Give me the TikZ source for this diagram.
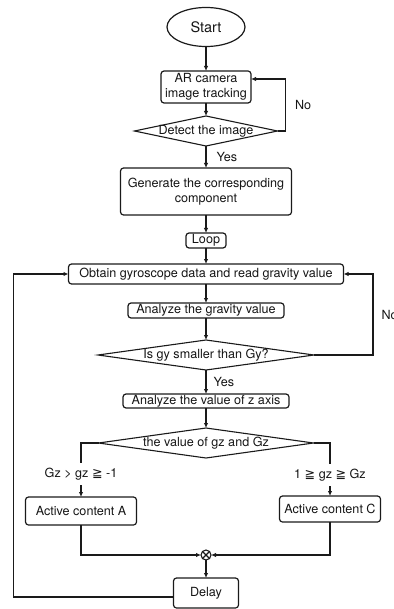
\documentclass[tikz,border=0pt]{standalone}
\usepackage{fontspec}
\setmainfont{TeX Gyre Heros}
\newfontfamily\symfont{DejaVu Sans}
\usetikzlibrary{shapes.geometric, arrows.meta, positioning, calc}
\definecolor{fcline}{HTML}{1A1A1A}
\definecolor{fctext}{HTML}{151515}
\newcommand{\dectext}[1]{\makebox[0pt]{#1}}
\tikzset{
  startend/.style={ellipse, draw=fcline, line width=1.2pt, minimum width=78pt, minimum height=39pt,
              inner sep=0pt, outer sep=0pt, text=fctext, font=\fontsize{14.5}{17}\selectfont},
  proc/.style={rectangle, rounded corners=3pt, draw=fcline, line width=1.2pt, inner sep=1pt, outer sep=0pt,
              align=center, text=fctext, font=\fontsize{12.6}{15}\selectfont},
  decision/.style={diamond, draw=fcline, line width=1.1pt, inner sep=0pt, outer sep=0pt, minimum height=30pt,
              text=fctext, font=\fontsize{12.6}{15}\selectfont},
  junction/.style={circle, draw=fcline, line width=1.1pt, minimum size=10pt, inner sep=0pt, outer sep=0pt,
              path picture={\draw[line width=1.1pt] (path picture bounding box.north west) -- (path picture bounding box.south east)
              (path picture bounding box.north east) -- (path picture bounding box.south west);}},
  flow/.style={-{Latex[length=5pt, width=4.5pt]}, draw=fcline, line width=1.1pt},
  lbl/.style={font=\fontsize{12.6}{15}\selectfont, text=fctext, inner sep=1pt},
}

\begin{document}
\begin{tikzpicture}[node distance=20pt]
    \path[use as bounding box, clip] (0,0) rectangle (393pt,-609pt);
    \node[startend] (start) at (206pt,-27pt) {Start};
    \node[proc, below=24.5pt of start, minimum width=90pt, minimum height=32pt] (camera) {AR camera\\image tracking};
    \node[decision, below=13pt of camera, minimum width=143pt] (detect) {\dectext{Detect the image}};
    \node[proc, below=22pt of detect, minimum width=171pt, minimum height=47pt] (generate) {Generate the corresponding\\component};
    \node[proc, below=18pt of generate, minimum width=40pt, minimum height=15pt] (loop) {Loop};
    \node[proc, below=16pt of loop, minimum width=275pt, minimum height=20pt] (obtain) {Obtain gyroscope data and read gravity value};
    \node[proc, below=19pt of obtain, minimum width=156pt, minimum height=15pt] (gravity) {Analyze the gravity value};
    \node[decision, below=22pt of gravity, minimum width=216pt] (gycheck) {\dectext{Is gy smaller than Gy?}};
    \node[proc, below=24pt of gycheck, minimum width=166pt, minimum height=14pt] (zaxis) {Analyze the value of z axis};
    \node[decision, below=20pt of zaxis, minimum width=215pt] (gzcheck) {\dectext{the value of gz and Gz}};
    \node[proc, below=54pt of gzcheck.west, xshift=-17.5pt, minimum width=111pt, minimum height=28pt] (contA) {Active content A};
    \node[proc, below=53pt of gzcheck.east, xshift=16.5pt, minimum width=101pt, minimum height=26pt] (contC) {Active content C};
    \node[junction, below=92pt of gzcheck] (merge) {};
    \node[proc, below=18pt of merge, minimum width=65pt, minimum height=30pt] (delay) {Delay};
    % main column
    \draw[flow] (start) -- (camera);
    \draw[flow] (camera) -- (detect);
    \draw[flow] (detect) -- node[lbl, anchor=west, xshift=9pt]{Yes} (generate);
    \draw[flow] (detect.east) -- ++(8pt,0) |- node[lbl, pos=0.25, anchor=west, xshift=8pt]{No} ([yshift=8pt]camera.east);
    \draw[flow] (generate) -- (loop);
    \draw[flow] (loop) -- (obtain);
    \draw[flow] (obtain) -- (gravity);
    \draw[flow] (gravity) -- (gycheck);
    \draw[flow] (gycheck) -- node[lbl, anchor=west, xshift=6pt]{Yes} (zaxis);
    \draw[flow] (gycheck.east) -- ++(59pt,0) |- node[lbl, pos=0.25, anchor=west, xshift=7pt]{No} (obtain.east);
    \draw[flow] (zaxis) -- (gzcheck);
    % branches
    \draw[flow] (gzcheck.west) -| node[lbl, fill=white, inner ysep=5pt, pos=0.79]{Gz > gz {\symfont ≧} -1} (contA.north);
    \draw[flow] (gzcheck.east) -| node[lbl, fill=white, inner ysep=5pt, pos=0.8]{1 {\symfont ≧} gz {\symfont ≧} Gz} (contC.north);
    \draw[flow] (contA.south) |- (merge.west);
    \draw[flow] (contC.south) |- (merge.east);
    \draw[flow] (merge) -- (delay);
    \draw[flow] ([yshift=-4pt]delay.west) -- ++(-160pt,0) |- (obtain.west);
  \end{tikzpicture}
\end{document}
